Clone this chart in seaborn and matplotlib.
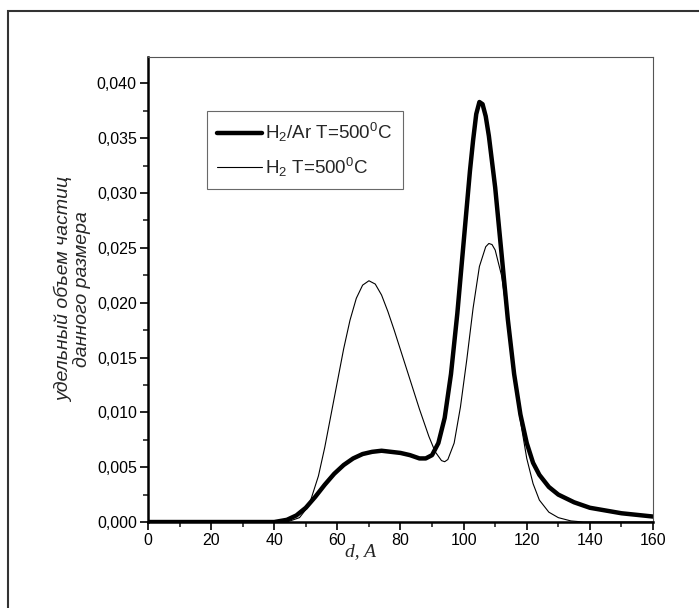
import numpy as np
import pandas as pd
import matplotlib
matplotlib.use('Agg')
import matplotlib.pyplot as plt
from matplotlib.ticker import MultipleLocator, FuncFormatter
from matplotlib.patches import Rectangle
import seaborn as sns

# d, A
d_ar = [0, 40, 44, 47, 50, 53, 56, 59, 62, 65, 68, 71, 74, 77, 80, 83, 86, 88, 90,
        92, 94, 96, 98, 100, 102, 103, 104, 105, 106, 107, 108, 110, 112, 114, 116,
        118, 120, 122, 124, 127, 130, 135, 140, 150, 160]
v_ar = [0, 0, 0.0002, 0.0006, 0.0013, 0.0023, 0.0034, 0.0044, 0.0052, 0.0058, 0.0062,
        0.0064, 0.0065, 0.0064, 0.0063, 0.0061, 0.0058, 0.0058, 0.0061,
        0.0072, 0.0095, 0.0135, 0.019, 0.0255, 0.032, 0.0348, 0.0372, 0.0383, 0.0381,
        0.0370, 0.0352, 0.0305, 0.0245, 0.0185, 0.0135, 0.0098, 0.0072, 0.0054, 0.0043,
        0.0032, 0.0025, 0.0018, 0.0013, 0.0008, 0.0005]

d_h2 = [0, 44, 48, 51, 54, 56, 58, 60, 62, 64, 66, 68, 70, 72, 74, 76, 78, 80, 83,
        86, 89, 91, 93, 94, 95, 97, 99, 101, 103, 105, 107, 108, 109, 110, 112, 114,
        116, 118, 120, 122, 124, 127, 130, 134, 138, 160]
v_h2 = [0, 0, 0.0004, 0.0015, 0.0042, 0.0068, 0.0098, 0.0128, 0.0158, 0.0184, 0.0204,
        0.0216, 0.0220, 0.0217, 0.0207, 0.0192, 0.0175, 0.0157, 0.0130,
        0.0103, 0.0078, 0.0064, 0.0056, 0.0055, 0.0057, 0.0072, 0.0105, 0.0148, 0.0195,
        0.0233, 0.0251, 0.0254, 0.0253, 0.0248, 0.0225, 0.0185, 0.0135, 0.0092, 0.0058,
        0.0035, 0.0020, 0.0009, 0.0004, 0.0001, 0, 0]

lbl_ar = 'H$_2$/Ar T=500$^0$C'
lbl_h2 = 'H$_2$ T=500$^0$C'

df = pd.concat([
    pd.DataFrame({'d': d_ar, 'v': v_ar, 's': lbl_ar}),
    pd.DataFrame({'d': d_h2, 'v': v_h2, 's': lbl_h2}),
])

sns.set_style('white')
plt.rcParams['font.family'] = ['Liberation Sans', 'DejaVu Sans']
plt.rcParams['mathtext.fontset'] = 'custom'
plt.rcParams['mathtext.rm'] = 'Liberation Sans'
plt.rcParams['mathtext.it'] = 'Liberation Sans:italic'

fig = plt.figure(figsize=(6.99, 6.08), dpi=100)
ax = fig.add_axes([0.2117, 0.1414, 0.7225, 0.7648])

sns.lineplot(data=df, x='d', y='v', hue='s', size='s', sizes={lbl_ar: 3.2, lbl_h2: 0.8},
             palette={lbl_ar: 'black', lbl_h2: 'black'}, ax=ax, sort=False,
             estimator=None)

ax.set_xlim(0, 160)
ax.set_ylim(0, 0.0424)
ax.xaxis.set_major_locator(MultipleLocator(20))
ax.xaxis.set_minor_locator(MultipleLocator(10))
ax.yaxis.set_major_locator(MultipleLocator(0.005))
ax.yaxis.set_minor_locator(MultipleLocator(0.0025))
ax.yaxis.set_major_formatter(FuncFormatter(lambda v, p: f'{v:.3f}'.replace('.', ',')))
ax.tick_params(which='major', length=6, width=1.2, labelsize=11.5, pad=2, colors='black')
ax.tick_params(which='minor', length=3.5, width=1.2)
ax.tick_params(left=True, bottom=True, which='both')

for s in ['left', 'bottom']:
    ax.spines[s].set_linewidth(1.8)
    ax.spines[s].set_color('black')
for s in ['top', 'right']:
    ax.spines[s].set_linewidth(0.8)
    ax.spines[s].set_color('#555555')

ax.set_xlabel('d, A', fontsize=14, style='italic', family='Liberation Serif')
ax.xaxis.set_label_coords(0.42, -0.045)
ax.set_ylabel('удельный объем частиц\nданного размера', fontsize=14, style='italic',
              linespacing=1.0)

leg = ax.legend(loc='upper left', bbox_to_anchor=(0.117, 0.884), borderaxespad=0,
                fontsize=13.5, frameon=True, fancybox=False, handlelength=2.4,
                handletextpad=0.15, labelspacing=0.6, borderpad=0.55)
leg.get_frame().set_edgecolor('#444444')
leg.get_frame().set_linewidth(0.8)

# outer frame of the page
fig.patches.append(Rectangle((8 / 699, -0.1), 1.2, 1 - 11 / 608 + 0.1,
                             transform=fig.transFigure, fill=False,
                             edgecolor='#333333', linewidth=1.5))

fig.savefig('out.png', dpi=100)
